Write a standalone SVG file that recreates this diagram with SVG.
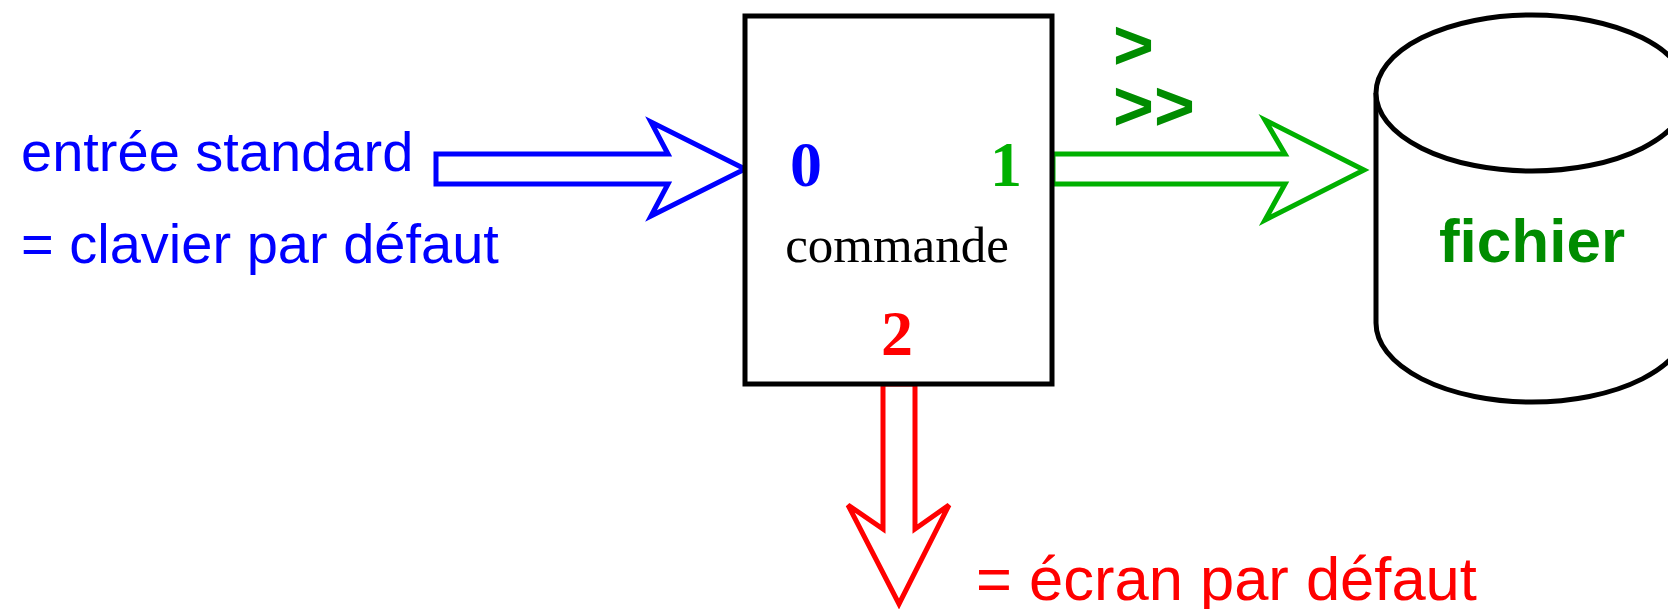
<svg xmlns="http://www.w3.org/2000/svg" width="1668" height="609" viewBox="0 0 1668 609">
  <style>
    .sans { font-family: "Liberation Sans", Arial, sans-serif; }
    .serif { font-family: "Liberation Serif", "Times New Roman", serif; }
    .outline { fill: #ffffff; stroke-width: 5; stroke-linejoin: miter; }
    .blue { fill: #0000ff; }
    .green { fill: #00b000; }
    .dkgreen { fill: #008c00; }
    .red { fill: #ff0000; }
  </style>
  <rect width="1668" height="609" fill="#ffffff"/>

  <!-- connectors: hollow block arrows for the three streams -->
  <g id="connectors">
    <polygon id="stdin-arrow" class="outline" stroke="#0000ff"
      points="436,154 668,154 651,122 745,169 651,216 668,184 436,184"/>
    <polygon id="stdout-arrow" class="outline" stroke="#00b000"
      points="1053,154 1285,154 1265,120 1364,170 1265,220 1285,184 1053,184"/>
    <polygon id="stderr-arrow" class="outline" stroke="#ff0000"
      points="883,384 883,529 848,505 899,604 949,505 915,529 915,384"/>
  </g>

  <!-- standard input label -->
  <g id="stdin-label">
    <text class="sans blue" x="21" y="171" font-size="56">entrée standard</text>
    <text class="sans blue" x="21" y="263" font-size="56">= clavier par défaut</text>
  </g>

  <!-- the command with its three descriptors -->
  <g id="commande">
    <rect x="745" y="16" width="307" height="368" fill="#ffffff" stroke="#000000" stroke-width="5"/>
    <text class="serif blue" x="806" y="186" font-size="64" font-weight="bold" text-anchor="middle">0</text>
    <text class="serif green" x="1006" y="186" font-size="64" font-weight="bold" text-anchor="middle">1</text>
    <text class="serif" x="897" y="262" font-size="51" text-anchor="middle" fill="#000000">commande</text>
    <text class="serif red" x="897" y="355" font-size="64" font-weight="bold" text-anchor="middle">2</text>
  </g>

  <!-- redirection operators -->
  <g id="redirections">
    <text class="sans dkgreen" x="1113" y="69" font-size="70" font-weight="bold">&gt;</text>
    <text class="sans dkgreen" x="1113" y="130" font-size="70" font-weight="bold">&gt;&gt;</text>
  </g>

  <!-- file drawn as a cylinder -->
  <g id="fichier" fill="none" stroke="#000000" stroke-width="5">
    <path d="M1376,93 L1376,323 A156,79 0 0 0 1688,323 L1688,93" fill="#ffffff"/>
    <ellipse cx="1532" cy="93" rx="156" ry="78" fill="#ffffff"/>
    <text class="sans dkgreen" x="1532" y="262" font-size="62" font-weight="bold" text-anchor="middle" stroke="none">fichier</text>
  </g>

  <!-- standard error label -->
  <g id="stderr-label">
    <text class="sans red" x="976" y="600" font-size="61.5">= écran par défaut</text>
  </g>
</svg>
